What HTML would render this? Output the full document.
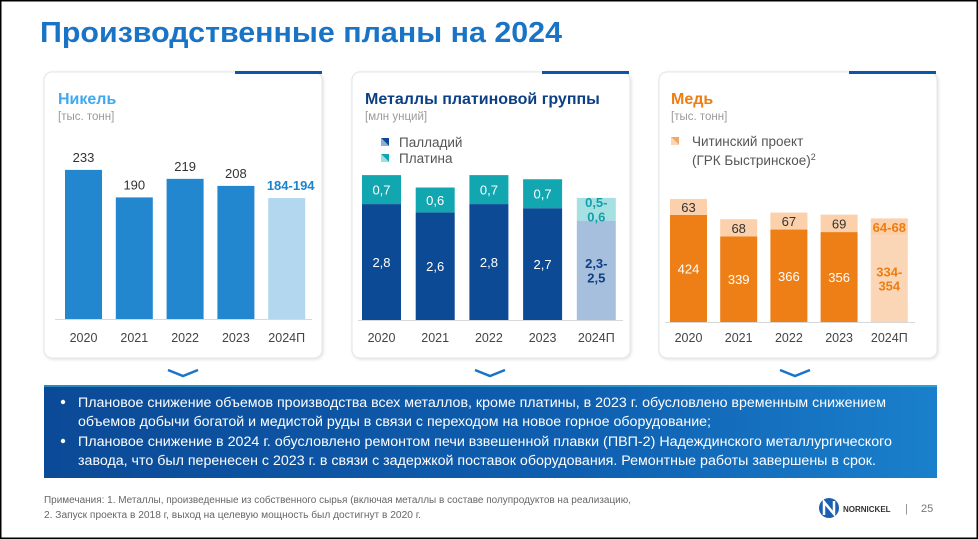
<!DOCTYPE html>
<html><head><meta charset="utf-8">
<style>
html,body{margin:0;padding:0;background:#fff;}
svg{display:block;font-family:"Liberation Sans","DejaVu Sans",sans-serif;}
</style></head>
<body>
<svg id="s" width="978" height="539" viewBox="0 0 978 539">
<defs>
<linearGradient id="bg" x1="0" x2="1" y1="0" y2="0">
<stop offset="0" stop-color="#0b4a97"/><stop offset="0.6" stop-color="#0f5fb0"/><stop offset="1" stop-color="#1a80cc"/>
</linearGradient>
<filter id="sh" x="-5%" y="-5%" width="110%" height="110%"><feDropShadow dx="1" dy="1" stdDeviation="1.5" flood-color="#000" flood-opacity="0.12"/></filter>
</defs>
<rect x="0.75" y="0.75" width="976.5" height="537.5" fill="#fff" stroke="#000" stroke-width="1.5"/>
<text x="40" y="42" font-size="29" font-weight="bold" fill="#1a74c6" textLength="522" lengthAdjust="spacingAndGlyphs">Производственные планы на 2024</text>

<g>
<rect x="44" y="72" width="278" height="286" rx="8" fill="#fff" stroke="#e2e4e8" filter="url(#sh)"/>
<rect x="235" y="71" width="87" height="3" fill="#0d56a5"/>
<text x="58" y="104" font-size="16" font-weight="bold" fill="#3fa9f0">Никель</text>
<text x="58" y="120" font-size="11.5" fill="#9a9a9a">[тыс. тонн]</text>
<g id="gN"></g>
</g>

<g>
<rect x="352" y="72" width="278" height="286" rx="8" fill="#fff" stroke="#e2e4e8" filter="url(#sh)"/>
<rect x="542" y="71" width="87" height="3" fill="#0d56a5"/>
<text x="365" y="104" font-size="16" font-weight="bold" fill="#0d3f85">Металлы платиновой группы</text>
<text x="365" y="120" font-size="11.5" fill="#9a9a9a">[млн унций]</text>
<g><polygon points="381,138 389,138 389,146" fill="#0d4a95"/><polygon points="381,138 389,146 381,146" fill="#8fb0d6"/><text x="399" y="147" font-size="13.5" fill="#555">Палладий</text></g>
<g><polygon points="381,154 389,154 389,162" fill="#12a7b0"/><polygon points="381,154 389,162 381,162" fill="#9edfe2"/><text x="399" y="163" font-size="13.5" fill="#555">Платина</text></g>
<g id="gP"></g>
</g>

<g>
<rect x="659" y="72" width="278" height="286" rx="8" fill="#fff" stroke="#e2e4e8" filter="url(#sh)"/>
<rect x="849" y="71" width="87" height="3" fill="#0d56a5"/>
<text x="671" y="104" font-size="16" font-weight="bold" fill="#ee7d12">Медь</text>
<text x="671" y="120" font-size="11.5" fill="#9a9a9a">[тыс. тонн]</text>
<g><polygon points="671,137 679,137 679,145" fill="#f3a86a"/><polygon points="671,137 679,145 671,145" fill="#fbd6b6"/>
<text x="692" y="146" font-size="13.5" fill="#555">Читинский проект</text>
<text x="692" y="165" font-size="13.5" fill="#555">(ГРК Быстринское)<tspan font-size="9" dy="-5">2</tspan></text></g>
<g id="gC"></g>
</g>

<g fill="none" stroke="#1a74c6" stroke-width="2.5">
<polyline points="168,370 183,376 198,370"/>
<polyline points="475,370 490,376 505,370"/>
<polyline points="780,370 795,376 810,370"/>
</g>

<g>
<rect x="44" y="385" width="893" height="93" fill="url(#bg)"/>
<rect x="44" y="385" width="893" height="2" fill="#38b6e0" opacity="0.6"/>
<g font-size="13.5" fill="#fff" lengthAdjust="spacingAndGlyphs">
<circle cx="63" cy="402" r="2.2" fill="#fff"/>
<text x="78" y="407" textLength="808" lengthAdjust="spacingAndGlyphs">Плановое снижение объемов производства всех металлов, кроме платины, в 2023 г. обусловлено временным снижением</text>
<text x="78" y="426" textLength="633" lengthAdjust="spacingAndGlyphs">объемов добычи богатой и медистой руды в связи с переходом на новое горное оборудование;</text>
<circle cx="63" cy="441" r="2.2" fill="#fff"/>
<text x="78" y="446" textLength="814" lengthAdjust="spacingAndGlyphs">Плановое снижение в 2024 г. обусловлено ремонтом печи взвешенной плавки (ПВП-2) Надеждинского металлургического</text>
<text x="78" y="465" textLength="798" lengthAdjust="spacingAndGlyphs">завода, что был перенесен с 2023 г. в связи с задержкой поставок оборудования. Ремонтные работы завершены в срок.</text>
</g>
</g>

<g font-size="10" fill="#666">
<text x="44" y="503" textLength="587" lengthAdjust="spacingAndGlyphs">Примечания: 1. Металлы, произведенные из собственного сырья (включая металлы в составе полупродуктов на реализацию,</text>
<text x="44" y="518" textLength="377" lengthAdjust="spacingAndGlyphs">2. Запуск проекта в 2018 г, выход на целевую мощность был достигнут в 2020 г.</text>
</g>
<g>
<circle cx="829" cy="508" r="10" fill="#1a5fb0"/>
<path d="M824 515 L824 502 L834 514 L834 501" stroke="#fff" stroke-width="2.5" fill="none"/>
<text x="843" y="512" font-size="8" font-weight="bold" fill="#333">NORNICKEL</text>
<text x="905" y="512" font-size="11" fill="#888">|</text>
<text x="921" y="512" font-size="11" fill="#777">25</text>
</g>
</svg>
<script>
const years = ["2020","2021","2022","2023","2024П"];
const nickelValues = [233,190,219,208,189];
const nickelLabels = ["233","190","219","208","184-194"];
const palladiumValues = [2.8,2.6,2.8,2.7,2.4];
const platinumValues = [0.7,0.6,0.7,0.7,0.55];
const palladiumLabels = ["2,8","2,6","2,8","2,7","2,3-|2,5"];
const platinumLabels = ["0,7","0,6","0,7","0,7","0,5-|0,6"];
const copperMainValues = [424,339,366,356,344];
const copperChitaValues = [63,68,67,69,66];
const copperMainLabels = ["424","339","366","356","334-|354"];
const copperChitaLabels = ["63","68","67","69","64-68"];

const NS="http://www.w3.org/2000/svg";
function mk(p,tag,a){const e=document.createElementNS(NS,tag);for(const k in a)e.setAttribute(k,a[k]);p.appendChild(e);return e;}
function txt(p,x,y,s,size,fill,bold){
  const parts=s.split("|");
  const t=mk(p,"text",{x:x,y:y-(parts.length-1)*size*0.55,"font-size":size,fill:fill,"text-anchor":"middle","font-weight":bold?"bold":"normal"});
  parts.forEach((q,i)=>{const sp=mk(t,"tspan",{x:x,dy:i?size*1.1:0});sp.textContent=q;});
  return t;
}
// Nickel
(function(){
  const g=document.getElementById("gN");
  const base=319, k=0.64, x0=65, step=50.8, w=37;
  const y=v=>base-v*k;
  mk(g,"line",{x1:55,x2:312,y1:base+0.5,y2:base+0.5,stroke:"#d8d8d8"});
  years.forEach((yr,i)=>{
    const x=x0+i*step, last=i===4;
    const b=mk(g,"rect",{x:x,y:y(nickelValues[i]),width:w,height:base-y(nickelValues[i]),fill:last?"#b3d7ef":"#2387d0"});
    
    
    const l=txt(g,x+w/2+(last?4:0),y(nickelValues[i])-8,nickelLabels[i],13,last?"#1a84d0":"#333",last);
    
    
    const yl=txt(g,x+w/2,342,yr,12.5,"#444",false);
    
    
  });
})();
// PGM
(function(){
  const g=document.getElementById("gP");
  const base=320, k=41.4, x0=362, step=53.7, w=39;
  mk(g,"line",{x1:358,x2:623,y1:base+0.5,y2:base+0.5,stroke:"#d8d8d8"});
  years.forEach((yr,i)=>{
    const x=x0+i*step, last=i===4;
    const hp=palladiumValues[i]*k, ht=platinumValues[i]*k;
    const b1=mk(g,"rect",{x:x,y:base-hp,width:w,height:hp,fill:last?"#a6bfdc":"#0d4a95"});
    
    
    const b2=mk(g,"rect",{x:x,y:base-hp-ht,width:w,height:ht,fill:last?"#a7e0e3":"#12a7b0"});
    
    
    const l1=txt(g,x+w/2,base-hp/2+5,palladiumLabels[i],13,last?"#0d3f85":"#fff",last);
    
    
    const l2=txt(g,x+w/2,base-hp-ht/2+5,platinumLabels[i],13,last?"#12a0aa":"#fff",last);
    
    
    const yl=txt(g,x+w/2,342,yr,12.5,"#444",false);
    
    
  });
})();
// Copper
(function(){
  const g=document.getElementById("gC");
  const base=322, k=0.2526, x0=670, step=50.2, w=37;
  mk(g,"line",{x1:665,x2:915,y1:base+0.5,y2:base+0.5,stroke:"#d8d8d8"});
  years.forEach((yr,i)=>{
    const x=x0+i*step, last=i===4;
    const hm=copperMainValues[i]*k, hc=copperChitaValues[i]*k;
    const b1=mk(g,"rect",{x:x,y:base-hm,width:w,height:hm,fill:last?"#fbd6b6":"#ee7f16"});
    
    
    const b2=mk(g,"rect",{x:x,y:base-hm-hc,width:w,height:hc,fill:"#fbd0ab"});
    
    
    const l1=txt(g,x+w/2,base-hm/2+5,copperMainLabels[i],13,last?"#ee7d12":"#fff",last);
    
    
    const l2=txt(g,x+w/2,base-hm-hc/2+5,copperChitaLabels[i],13,last?"#ee7d12":"#333",last);
    
    
    const yl=txt(g,x+w/2,342,yr,12.5,"#444",false);
    
    
  });
})();
</script>
</body></html>
